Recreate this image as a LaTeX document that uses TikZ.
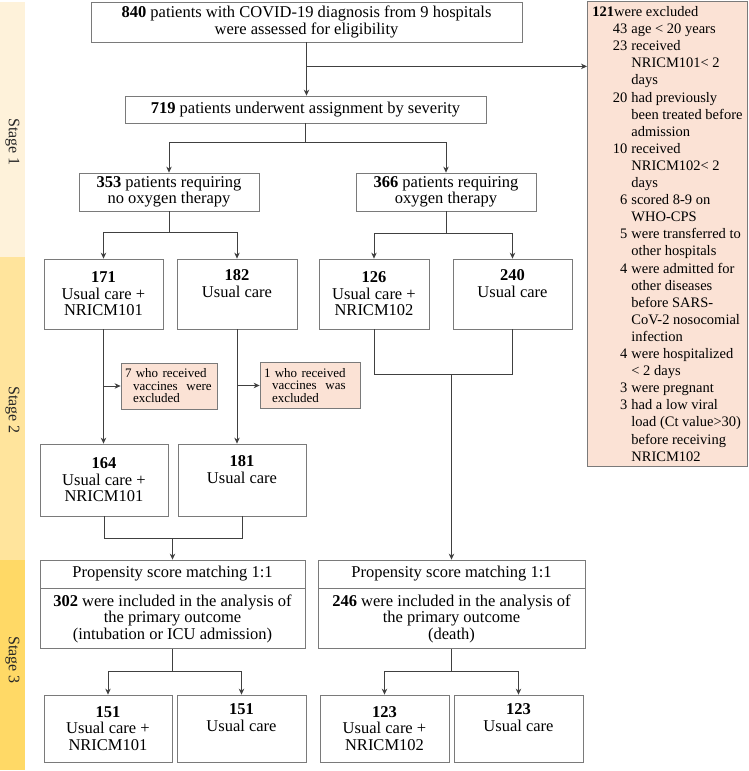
\documentclass[tikz,border=0pt]{standalone}
\usepackage{fontspec}
\setmainfont{Liberation Serif}
\usetikzlibrary{arrows.meta,calc}
\definecolor{stA}{HTML}{FEF2DA}
\definecolor{stB}{HTML}{FFE49C}
\definecolor{stC}{HTML}{FFD966}
\definecolor{exfill}{HTML}{FBE2D5}
\definecolor{bord}{HTML}{7A7A7A}
\definecolor{conn}{HTML}{404040}
\newcommand{\exitem}[2]{\hspace*{13pt}\makebox[22pt][r]{#1}\hspace{4pt}#2}
\newcommand{\excont}[1]{\hspace*{39pt}#1}
\begin{document}
\begin{tikzpicture}[x=1pt,y=-1pt,
  box/.style={draw=bord, line width=0.8pt, fill=white, align=center, inner sep=1pt,
    font=\fontsize{16.5}{16.5}\selectfont},
  exbox/.style={draw=bord, line width=0.8pt, fill=exfill, align=left, inner xsep=5pt, inner ysep=1pt,
    font=\fontsize{14.5}{17.1}\selectfont},
  exsmall/.style={draw=bord, line width=0.8pt, fill=exfill, align=left, inner xsep=4pt, inner ysep=1pt,
    text width=88pt, minimum height=46pt, font=\fontsize{13}{12.5}\selectfont},
  ln/.style={draw=conn, line width=0.8pt},
  arr/.style={draw=conn, line width=0.8pt, -{Stealth[length=6pt,width=5.5pt]}},
  stagelbl/.style={rotate=-90, font=\fontsize{16}{16}\selectfont, text=black!85}
]
\useasboundingbox (0,0) rectangle (748,771);
\fill[white] (0,0) rectangle (748,771);

% stage bands
\fill[stA] (0,2) rectangle (25,257);
\fill[stB] (0,257) rectangle (25,560);
\fill[stC] (0,560) rectangle (25,770);
\node[stagelbl] (s1) at (12.5,142) {Stage 1};
\node[stagelbl] (s2) at (12.5,410) {Stage 2};
\node[stagelbl] (s3) at (12.5,660) {Stage 3};

% stage 1
\node[box, minimum width=431pt, minimum height=40pt] (n840) at (306.5,22)
  {\textbf{840} patients with COVID-19 diagnosis from 9 hospitals\\were assessed for eligibility};
\node[box, minimum width=361pt, minimum height=27pt] (n719) at (305.5,109.5)
  {\textbf{719} patients underwent assignment by severity};
\node[box, minimum width=180pt, minimum height=38pt] (n353) at (169,192)
  {\textbf{353} patients requiring\\no oxygen therapy};
\node[box, minimum width=180pt, minimum height=38pt] (n366) at (446,192)
  {\textbf{366} patients requiring\\oxygen therapy};

\node[exbox, anchor=north west, minimum width=159pt, minimum height=465pt] (excl) at (587,1) {%
\textbf{121}were excluded\\
\exitem{43}{age < 20 years}\\
\exitem{23}{received}\\
\excont{NRICM101< 2}\\
\excont{days}\\
\exitem{20}{had previously}\\
\excont{been treated before}\\
\excont{admission}\\
\exitem{10}{received}\\
\excont{NRICM102< 2}\\
\excont{days}\\
\exitem{6}{scored 8-9 on}\\
\excont{WHO-CPS}\\
\exitem{5}{were transferred to}\\
\excont{other hospitals}\\
\exitem{4}{were admitted for}\\
\excont{other diseases}\\
\excont{before SARS-}\\
\excont{CoV-2 nosocomial}\\
\excont{infection}\\
\exitem{4}{were hospitalized}\\
\excont{< 2 days}\\
\exitem{3}{were pregnant}\\
\exitem{3}{had a low viral}\\
\excont{load (Ct value>30)}\\
\excont{before receiving}\\
\excont{NRICM102}};

% stage 2
\node[box, minimum width=119pt, minimum height=70pt] (n171) at (103.5,294)
  {\textbf{171}\\Usual care +\\NRICM101};
\node[box, minimum width=120pt, minimum height=70pt] (n182) at (237,294)
  {\textbf{182}\\Usual care\\\strut};
\node[box, minimum width=110pt, minimum height=70pt] (n126) at (374,294)
  {\textbf{126}\\Usual care +\\NRICM102};
\node[box, minimum width=119pt, minimum height=70pt] (n240) at (512.5,294)
  {\textbf{240}\\Usual care\\\strut};

\node[exsmall] (ex7) at (169,386)
  {7 who received\\\hspace*{8pt}vaccines\ \ were\\\hspace*{8pt}excluded};
\node[exsmall, text width=92pt] (ex1) at (310,385.5)
  {1 who received\\\hspace*{8pt}vaccines\ \ was\\\hspace*{8pt}excluded};

\node[box, minimum width=128pt, minimum height=72pt] (n164) at (104,480)
  {\textbf{164}\\Usual care +\\NRICM101};
\node[box, minimum width=128pt, minimum height=72pt] (n181) at (242,480)
  {\textbf{181}\\Usual care\\\strut};

% stage 3
\node[box, minimum width=265pt, minimum height=28pt] (pL1) at (172.5,574)
  {Propensity score matching 1:1};
\node[box, minimum width=265pt, minimum height=60pt, anchor=north] (pL2) at (pL1.south)
  {\textbf{302} were included in the analysis of\\the primary outcome\\(intubation or ICU admission)};
\node[box, minimum width=267pt, minimum height=28pt] (pR1) at (451.5,574)
  {Propensity score matching 1:1};
\node[box, minimum width=267pt, minimum height=60pt, anchor=north] (pR2) at (pR1.south)
  {\textbf{246} were included in the analysis of\\the primary outcome\\(death)};

\node[box, minimum width=128pt, minimum height=67pt] (n151a) at (108,728.5)
  {\textbf{151}\\Usual care +\\NRICM101};
\node[box, minimum width=129pt, minimum height=67pt] (n151b) at (241.5,728.5)
  {\textbf{151}\\Usual care\\\strut};
\node[box, minimum width=129pt, minimum height=67pt] (n123a) at (384.5,728.5)
  {\textbf{123}\\Usual care +\\NRICM102};
\node[box, minimum width=129pt, minimum height=67pt] (n123b) at (518.5,728.5)
  {\textbf{123}\\Usual care\\\strut};

% connectors
\draw[arr] (n840.south) -- (n840.south |- n719.north);
\coordinate (j0) at ($(n840.south)+(0,24)$);
\draw[arr] (j0) -- (j0 -| excl.west);

\draw[ln] (n719.south) -- ++(0,19) coordinate (j1);
\draw[arr] (j1) -| (n353.north);
\draw[arr] (j1) -| (n366.north);

\draw[ln] (n353.south) -- ++(0,21) coordinate (j2);
\draw[arr] (j2) -| (n171.north);
\draw[arr] (j2) -| (n182.north);

\draw[ln] (n366.south) -- ++(0,22) coordinate (j3);
\draw[arr] (j3) -| (n126.north);
\draw[arr] (j3) -| (n240.north);

\draw[arr] (n171.south) -- (n171.south |- n164.north);
\draw[arr] (n171.south |- ex7.west) -- (ex7.west);
\draw[arr] (n182.south) -- (n182.south |- n181.north);
\draw[arr] (n182.south |- ex1.west) -- (ex1.west);

\draw[ln] (n126.south) -- ++(0,45) coordinate (j4) -- (j4 -| n240.south) -- (n240.south);
\draw[arr] (pR1.north |- j4) -- (pR1.north);

\draw[ln] (n164.south) -- ++(0,22) coordinate (j5) -- (j5 -| n181.south) -- (n181.south);
\draw[arr] (pL1.north |- j5) -- (pL1.north);

\draw[ln] (pL2.south) -- ++(0,22) coordinate (j6);
\draw[arr] (j6) -| (n151a.north);
\draw[arr] (j6) -| (n151b.north);

\draw[ln] (pR2.south) -- ++(0,22) coordinate (j7);
\draw[arr] (j7) -| (n123a.north);
\draw[arr] (j7) -| (n123b.north);
\end{tikzpicture}
\end{document}
